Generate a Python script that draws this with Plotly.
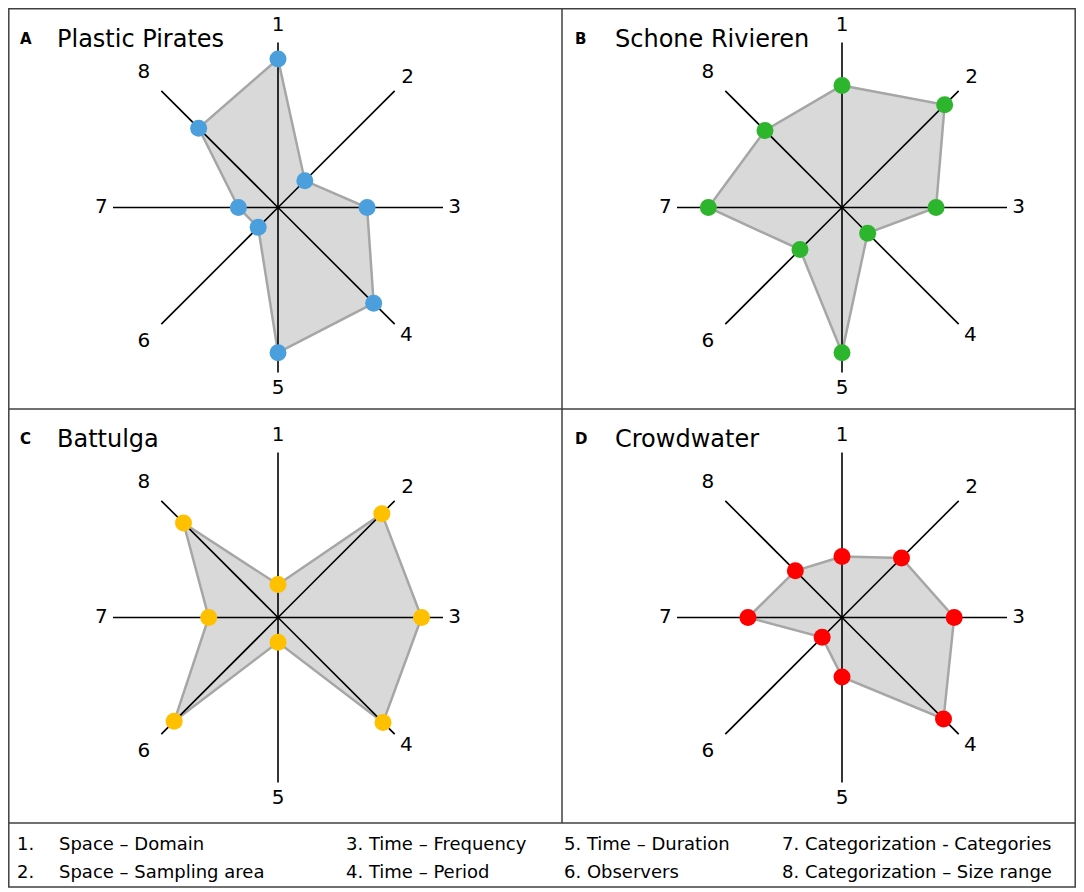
import plotly.graph_objects as go

# spoke ids and values (0 = centre, 1 = spoke tip)
spokes = ["1", "2", "3", "4", "5", "6", "7", "8"]

plastic_pirates = [0.90, 0.23, 0.54, 0.82, 0.88, 0.17, 0.24, 0.68]
schone_rivieren = [0.74, 0.88, 0.57, 0.22, 0.88, 0.36, 0.81, 0.66]
battulga = [0.20, 0.89, 0.87, 0.90, 0.15, 0.89, 0.42, 0.81]
crowdwater = [0.37, 0.51, 0.68, 0.87, 0.36, 0.17, 0.57, 0.40]

panel_letters = ["A", "B", "C", "D"]
panel_titles = ["Plastic Pirates", "Schone Rivieren", "Battulga", "Crowdwater"]
marker_colors = ["#4a9fdc", "#2db52d", "#ffc000", "#ff0000"]

legend_labels = [
    "Space \u2013 Domain", "Space \u2013 Sampling area",
    "Time \u2013 Frequency", "Time \u2013 Period",
    "Time \u2013 Duration", "Observers",
    "Categorization - Categories", "Categorization \u2013 Size range",
]

# the page body adds an 8px margin, so the figure is shrunk and shifted by it
OFF = 8
W, H = 1084 - 2 * OFF, 892 - OFF
R = 165                  # spoke length in px
# where each spoke number sits, in spoke lengths
label_r = [1.10, 1.11, 1.07, 1.10, 1.10, 1.15, 1.07, 1.15]
RMAX = max(label_r)
FONT = "DejaVu Sans"

# pixel centres of the panels (page coordinates)
centres = [(278, 207.5), (842, 207.5), (278, 617.5), (842, 617.5)]
letter_x = [18, 573, 18, 573]
title_x = [55, 613, 55, 613]
title_y = [39, 39, 439, 439]
series = [plastic_pirates, schone_rivieren, battulga, crowdwater]


def px_x(x):
    return (x - OFF) / W


def px_y(y):
    return 1 - (y - OFF) / H


fig = go.Figure()
annotations = []
outer = R * RMAX

for i, vals in enumerate(series):
    key = "polar" if i == 0 else "polar%d" % (i + 1)
    cx, cy = centres[i]

    # filled polygon
    fig.add_trace(go.Scatterpolar(
        r=vals + vals[:1], theta=spokes + spokes[:1], mode="lines",
        fill="toself", fillcolor="#d9d9d9",
        line=dict(color="#a6a6a6", width=2.5),
        subplot=key, hoverinfo="skip", showlegend=False))

    # spokes drawn over the fill
    sr, st = [], []
    for s in spokes:
        sr += [0, 1, None]
        st += [s, s, None]
    fig.add_trace(go.Scatterpolar(
        r=sr, theta=st, mode="lines", line=dict(color="black", width=1.6),
        subplot=key, hoverinfo="skip", showlegend=False, connectgaps=False))

    # spoke numbers
    fig.add_trace(go.Scatterpolar(
        r=label_r, theta=spokes, mode="text", text=spokes,
        textposition="middle center",
        textfont=dict(family=FONT, size=20, color="black"),
        subplot=key, hoverinfo="skip", showlegend=False, cliponaxis=False))

    # points
    fig.add_trace(go.Scatterpolar(
        r=vals, theta=spokes, mode="markers",
        marker=dict(size=17, color=marker_colors[i]),
        subplot=key, showlegend=False))

    fig.update_layout({key: dict(
        domain=dict(x=[px_x(cx - outer), px_x(cx + outer)],
                    y=[px_y(cy + outer), px_y(cy - outer)]),
        bgcolor="rgba(0,0,0,0)",
        radialaxis=dict(range=[0, RMAX], visible=False),
        angularaxis=dict(type="category", categoryarray=spokes,
                         direction="clockwise", rotation=90,
                         showgrid=False, showline=False, ticks="",
                         showticklabels=False),
    )})

    annotations.append(dict(
        x=px_x(letter_x[i]), y=px_y(title_y[i]), xref="paper", yref="paper",
        text="<b>%s</b>" % panel_letters[i], showarrow=False,
        xanchor="left", yanchor="middle",
        font=dict(family=FONT, size=15, color="black")))
    annotations.append(dict(
        x=px_x(title_x[i]), y=px_y(title_y[i]), xref="paper", yref="paper",
        text=panel_titles[i], showarrow=False,
        xanchor="left", yanchor="middle",
        font=dict(family=FONT, size=24, color="black")))

# legend text below the panels
col_x = [57, 344, 562, 780]
row_y = [843, 871]
for j, label in enumerate(legend_labels):
    col, row = j // 2, j % 2
    if col == 0:
        annotations.append(dict(
            x=px_x(15), y=px_y(row_y[row]), xref="paper", yref="paper",
            text="%d." % (j + 1), showarrow=False, xanchor="left",
            yanchor="middle", font=dict(family=FONT, size=18, color="black")))
        txt = label
    else:
        txt = "%d. %s" % (j + 1, label)
    annotations.append(dict(
        x=px_x(col_x[col]), y=px_y(row_y[row]), xref="paper", yref="paper",
        text=txt, showarrow=False, xanchor="left", yanchor="middle",
        font=dict(family=FONT, size=18, color="black")))

frame = dict(color="#404040", width=1.5)
x_left, x_right, y_top, y_bot = 8.8, 1075.2, 8.8, 887
shapes = [
    dict(type="rect", xref="paper", yref="paper", x0=px_x(x_left),
         x1=px_x(x_right), y0=px_y(y_bot), y1=px_y(y_top), line=frame),
    dict(type="line", xref="paper", yref="paper", x0=px_x(562), x1=px_x(562),
         y0=px_y(823), y1=px_y(y_top), line=frame),
    dict(type="line", xref="paper", yref="paper", x0=px_x(x_left),
         x1=px_x(x_right), y0=px_y(409), y1=px_y(409), line=frame),
    dict(type="line", xref="paper", yref="paper", x0=px_x(x_left),
         x1=px_x(x_right), y0=px_y(823), y1=px_y(823), line=frame),
]

fig.update_layout(
    width=W, height=H,
    margin=dict(l=0, r=0, t=0, b=0),
    paper_bgcolor="white", plot_bgcolor="white",
    annotations=annotations, shapes=shapes,
    showlegend=False,
)

fig.write_html("out.html")
